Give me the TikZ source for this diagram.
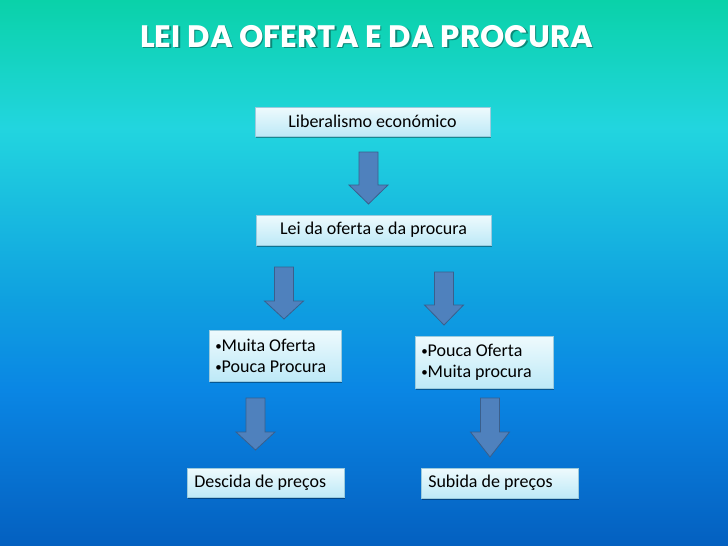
\documentclass[tikz,border=0pt]{standalone}
\usepackage{fontspec}
\usepackage{graphicx}
\setmainfont{Carlito}
\newfontfamily\titlefont{Poppins}
\usetikzlibrary{shadows}
\definecolor{bgA}{HTML}{0AD2A9}
\definecolor{bgB}{HTML}{22D5DF}
\definecolor{bgC}{HTML}{0FA0E0}
\definecolor{bgD}{HTML}{0A86E4}
\definecolor{bgE}{HTML}{0460C0}
\definecolor{boxtop}{HTML}{EEFAFD}
\definecolor{boxbot}{HTML}{BDE9F7}
\definecolor{boxline}{HTML}{9CCBDD}
\definecolor{arrfill}{HTML}{4F81BD}
\definecolor{arrline}{HTML}{3A5F8C}
\newcommand{\blkarrow}[4]{% center x, shaft top, head start, tip
  \draw[arrstyle] (#1-9.5,#2) -- (#1+9.5,#2) -- (#1+9.5,#3) -- (#1+19.5,#3)
    -- (#1,#4) -- (#1-19.5,#3) -- (#1-9.5,#3) -- cycle;}
\newcommand{\bul}{{\fontsize{13}{13}\selectfont\raisebox{1.2pt}{•}}}
\begin{document}
\begin{tikzpicture}[x=1pt,y=-1pt,
  arrstyle/.style={fill=arrfill,draw=arrline,line width=0.8pt,line join=miter},
  boxstyle/.style={draw=boxline,line width=0.5pt,top color=boxtop,bottom color=boxbot,
    drop shadow={shadow xshift=1.2pt,shadow yshift=-1.8pt,opacity=0.35,fill=black},
    font=\fontsize{18}{21}\selectfont,text=black,inner ysep=0pt},
  cbox/.style={boxstyle,align=center,inner xsep=0pt},
  lbox/.style={boxstyle,anchor=north west,align=flush left,inner xsep=6pt}]
\useasboundingbox (0,0) rectangle (728,546);
% background
\shade[top color=bgA,bottom color=bgB] (0,0) rectangle (728,128.5);
\shade[top color=bgB,bottom color=bgC] (0,128) rectangle (728,300.5);
\shade[top color=bgC,bottom color=bgD] (0,300) rectangle (728,390.5);
\shade[top color=bgD,bottom color=bgE] (0,390) rectangle (728,546);
% title
\node[anchor=base west,inner sep=0pt,text=black,opacity=0.35] (titleshadow) at (141.5,48.5)
  {\resizebox{453pt}{!}{\titlefont\bfseries LEI DA OFERTA E DA PROCURA}};
\node[anchor=base west,inner sep=0pt,text=white] (title) at (140,47)
  {\resizebox{453pt}{!}{\titlefont\bfseries LEI DA OFERTA E DA PROCURA}};
% boxes
\node[cbox,minimum width=235pt,minimum height=29pt] (lib) at (372.5,121.5) {Liberalismo económico};
\node[cbox,minimum width=235pt,minimum height=30pt] (lei) at (373.5,230) {Lei da oferta e da procura};
\node[lbox,text width=120pt,minimum height=51pt] (muita) at (209,330) {\bul Muita Oferta\\\bul Pouca Procura};
\node[lbox,text width=126pt,minimum height=52pt] (pouca) at (415,336) {\bul Pouca Oferta\\\bul Muita procura};
\node[lbox,text width=143pt,minimum height=29pt,inner xsep=7pt] (descida) at (187,468) {Descida de preços};
\node[lbox,text width=143pt,minimum height=30pt,inner xsep=7pt] (subida) at (421,468) {Subida de preços};
% block arrows
\blkarrow{368.5}{152}{185}{204}
\blkarrow{284}{267}{301}{319}
\blkarrow{444}{272}{305}{325}
\blkarrow{255.5}{398}{432}{450}
\blkarrow{490}{398}{432}{457}
\end{tikzpicture}
\end{document}
